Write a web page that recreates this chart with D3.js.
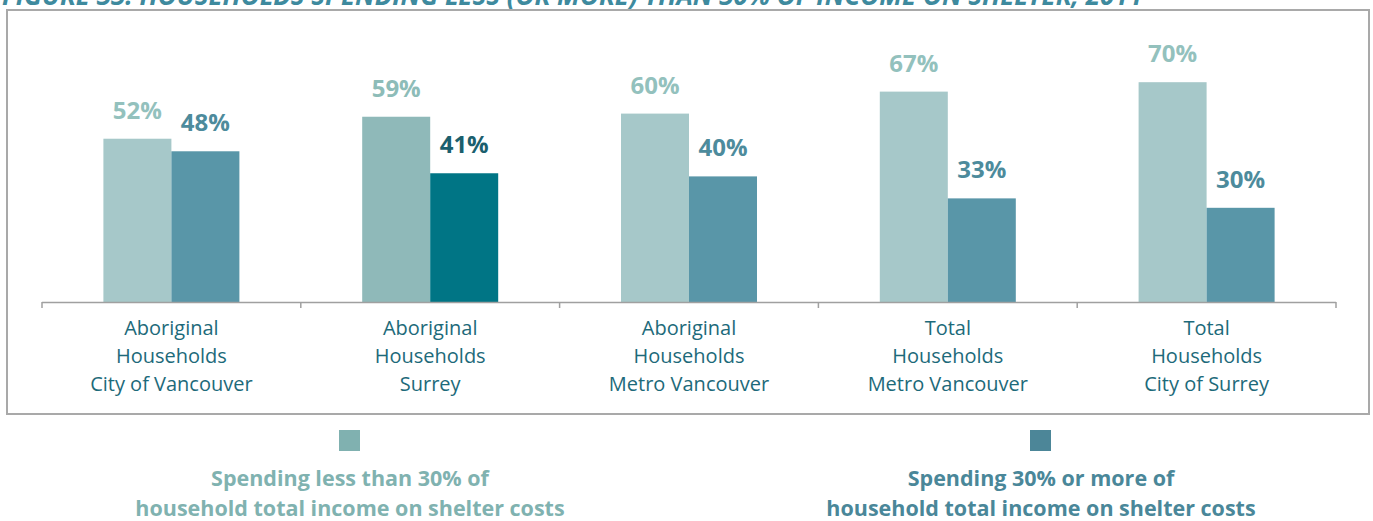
<!DOCTYPE html>
<html>
<head>
<meta charset="utf-8">
<script src="https://cdn.jsdelivr.net/npm/d3@7/dist/d3.min.js"></script>
<style>
  html, body { margin: 0; padding: 0; background: #fff; }
  svg { display: block; }
</style>
</head>
<body>
<svg id="chart" width="1373" height="521"></svg>
<script>
// Households spending less (or more) than 30% of income on shelter, 2011
const categories = [
  ["Aboriginal", "Households", "City of Vancouver"],
  ["Aboriginal", "Households", "Surrey"],
  ["Aboriginal", "Households", "Metro Vancouver"],
  ["Total", "Households", "Metro Vancouver"],
  ["Total", "Households", "City of Surrey"]
];
const lessThan30 = [52, 59, 60, 67, 70];
const moreThan30 = [48, 41, 40, 33, 30];
const seriesNames = [
  ["Spending less than 30% of", "household total income on shelter costs"],
  ["Spending 30% or more of", "household total income on shelter costs"]
];
const title = "FIGURE 33: HOUSEHOLDS SPENDING LESS (OR MORE) THAN 30% OF INCOME ON SHELTER, 2011";

// per-category fills (the Surrey pair is highlighted)
const lightFill = ["#a6c8c9", "#8fb9b9", "#a6c8c9", "#a6c8c9", "#a6c8c9"];
const darkFill  = ["#5996a8", "#007585", "#5996a8", "#5996a8", "#5996a8"];
const lightText = ["#93c1bd", "#8dbcb8", "#93c1bd", "#93c1bd", "#93c1bd"];
const darkText  = ["#4d8b9c", "#1b5f6e", "#4d8b9c", "#4d8b9c", "#4d8b9c"];

const svg = d3.select("#chart");
const font = "'Open Sans', Lato, sans-serif";

// title, partly cut off at the top edge
svg.append("text")
  .attr("x", 2).attr("y", 5)
  .attr("font-family", font)
  .attr("font-style", "italic").attr("font-weight", 700)
  .attr("font-size", 26)
  .attr("fill", "#3e8a9e")
  .text(title);

// frame
svg.append("rect")
  .attr("x", 7).attr("y", 10)
  .attr("width", 1362).attr("height", 404)
  .attr("fill", "none")
  .attr("stroke", "#a9a9a9").attr("stroke-width", 2);

const x = d3.scaleBand()
  .domain(d3.range(categories.length))
  .range([42, 1336])
  .paddingInner(0).paddingOuter(0);

const y = d3.scaleLinear().domain([0, 100]).range([302, -12]);

const barW = 68;

const g = svg.append("g");
const groups = g.selectAll("g.cat")
  .data(categories.map((c, i) => ({ i, less: lessThan30[i], more: moreThan30[i] })))
  .join("g").attr("class", "cat");

groups.append("rect")
  .attr("x", d => x(d.i) + x.bandwidth() / 2 - barW)
  .attr("y", d => y(d.less))
  .attr("width", barW)
  .attr("height", d => y(0) - y(d.less))
  .attr("fill", d => lightFill[d.i]);

groups.append("rect")
  .attr("x", d => x(d.i) + x.bandwidth() / 2)
  .attr("y", d => y(d.more))
  .attr("width", barW)
  .attr("height", d => y(0) - y(d.more))
  .attr("fill", d => darkFill[d.i]);

groups.append("text")
  .attr("x", d => x(d.i) + x.bandwidth() / 2 - barW / 2)
  .attr("y", d => y(d.less) - 20)
  .attr("text-anchor", "middle")
  .attr("font-family", font).attr("font-weight", 700).attr("font-size", 24)
  .attr("fill", d => lightText[d.i])
  .text(d => d.less + "%");

groups.append("text")
  .attr("x", d => x(d.i) + x.bandwidth() / 2 + barW / 2)
  .attr("y", d => y(d.more) - 20)
  .attr("text-anchor", "middle")
  .attr("font-family", font).attr("font-weight", 700).attr("font-size", 24)
  .attr("fill", d => darkText[d.i])
  .text(d => d.more + "%");

// category axis with boundary ticks
const axisG = svg.append("g");
axisG.append("line")
  .attr("x1", 42).attr("x2", 1336)
  .attr("y1", y(0) + 0.5).attr("y2", y(0) + 0.5)
  .attr("stroke", "#a0a0a0").attr("stroke-width", 1.5);
const edges = x.domain().map(i => x(i)).concat([x.range()[1]]);
axisG.selectAll("line.tick")
  .data(edges)
  .join("line").attr("class", "tick")
  .attr("x1", d => d).attr("x2", d => d)
  .attr("y1", y(0)).attr("y2", y(0) + 6)
  .attr("stroke", "#a0a0a0").attr("stroke-width", 1.5);

categories.forEach((lines, i) => {
  const t = axisG.append("text")
    .attr("text-anchor", "middle")
    .attr("font-family", font).attr("font-size", 20)
    .attr("fill", "#1d6a7a");
  lines.forEach((ln, k) => {
    t.append("tspan")
      .attr("x", x(i) + x.bandwidth() / 2)
      .attr("y", 335 + k * 28)
      .text(ln);
  });
});

// legend
const legend = [
  { cx: 350, sw: "#80b1b0", tc: "#80b2b0", lines: seriesNames[0] },
  { cx: 1041, sw: "#4c8698", tc: "#4a8799", lines: seriesNames[1] }
];
legend.forEach(l => {
  svg.append("rect")
    .attr("x", l.cx - 11).attr("y", 430)
    .attr("width", 21).attr("height", 21)
    .attr("fill", l.sw);
  const t = svg.append("text")
    .attr("text-anchor", "middle")
    .attr("font-family", font).attr("font-weight", 700).attr("font-size", 21.5)
    .attr("fill", l.tc);
  l.lines.forEach((ln, k) => {
    t.append("tspan").attr("x", l.cx).attr("y", 486 + k * 30).text(ln);
  });
});
</script>
</body>
</html>
